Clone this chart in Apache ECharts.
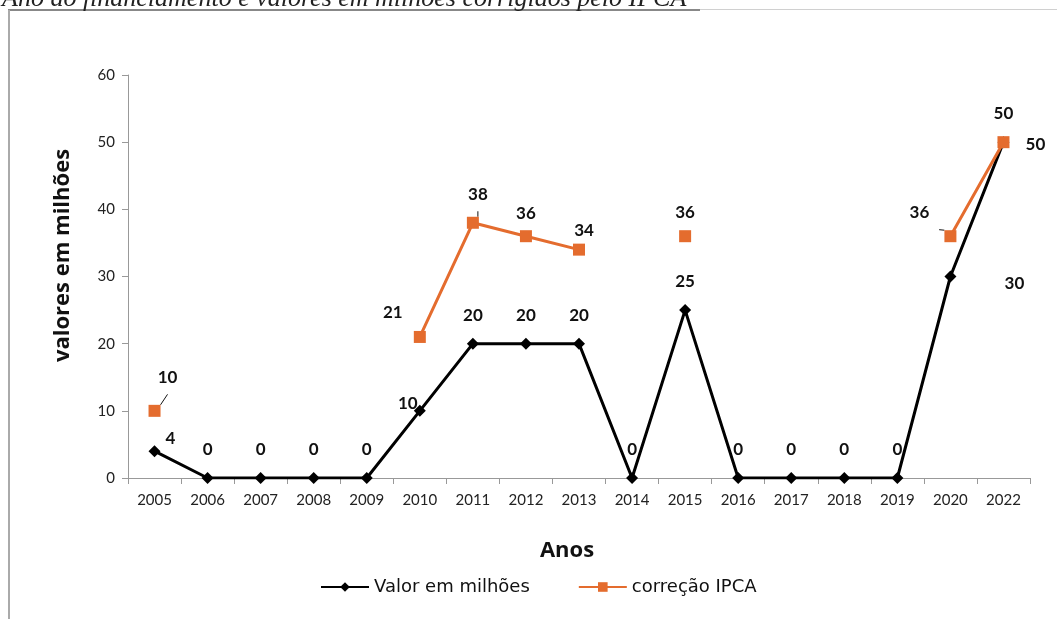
<!DOCTYPE html>
<html>
<head>
<meta charset="utf-8">
<script src="https://cdn.jsdelivr.net/npm/echarts@6/dist/echarts.min.js"></script>
<style>
  html, body { margin: 0; padding: 0; background: #fff; }
  #main { width: 1057px; height: 619px; }
</style>
</head>
<body>
<div id="main"></div>
<script>
var anos = ['2005', '2006', '2007', '2008', '2009', '2010', '2011', '2012', '2013',
  '2014', '2015', '2016', '2017', '2018', '2019', '2020', '2022'];
var valorMilhoes = [4, 0, 0, 0, 0, 10, 20, 20, 20, 0, 25, 0, 0, 0, 0, 30, 50];
var correcaoIPCA = [10, null, null, null, null, 21, 38, 36, 34, null, 36, null, null, null, null, 36, 50];
var yTicks = [0, 10, 20, 30, 40, 50, 60];

// label offsets per point, [dx, dy]
var offValor = [[16, 16], [0, 0], [0, 0], [0, 0], [0, 0], [-12, 21], [0, 0], [0, 0], [0, 0],
  [0, 0], [0, 0], [0, 0], [0, 0], [0, 0], [0, 0], [64, 36], [32, 31]];
var offIPCA = [[13, -7], null, null, null, null, [-27, 2], [5, -2], [0, 4], [5, 7],
  null, [0, 3], null, null, null, null, [-31, 3], [0, -2]];
// points whose label gets a leader line
var leaderIPCA = [0, 6, 15];

var font = 'Lato, "Open Sans", sans-serif';
var wideFont = '"Open Sans", Lato, sans-serif';

function buildData(vals, offs, leaders) {
  return vals.map(function (v, i) {
    if (v === null) return null;
    var item = { value: v, label: { offset: offs[i] || [0, 0] } };
    if (leaders && leaders.indexOf(i) >= 0) {
      item.labelLine = { show: true, lineStyle: { color: '#111', width: 1 } };
    }
    return item;
  });
}

var myChart = echarts.init(document.getElementById('main'));
var option = {
  animation: false,
  title: {
    text: 'Ano do financiamento e valores em milhões corrigidos pelo IPCA',
    left: -3,
    top: -19,
    textStyle: {
      fontFamily: '"Liberation Serif", "DejaVu Serif", serif',
      fontStyle: 'italic',
      fontWeight: 'normal',
      fontSize: 26,
      color: '#222'
    }
  },
  graphic: [
    { type: 'line', shape: { x1: 8, y1: 10, x2: 700, y2: 10 }, style: { stroke: '#888', lineWidth: 2 } },
    { type: 'line', shape: { x1: 700, y1: 9.5, x2: 1057, y2: 9.5 }, style: { stroke: '#d0d0d0', lineWidth: 1 } },
    { type: 'line', shape: { x1: 9, y1: 10, x2: 9, y2: 619 }, style: { stroke: '#aaa', lineWidth: 2 } }
  ],
  grid: { left: 128, right: 27, top: 75, bottom: 141 },
  legend: {
    bottom: 18,
    left: 315,
    itemGap: 48,
    itemWidth: 48,
    itemHeight: 12,
    textStyle: { fontFamily: '"DejaVu Sans", sans-serif', fontSize: 18, color: '#111' },
    data: ['Valor em milhões', 'correção IPCA']
  },
  xAxis: {
    type: 'category',
    data: anos,
    boundaryGap: true,
    name: 'Anos',
    nameLocation: 'middle',
    nameGap: 62,
    nameTextStyle: { fontFamily: wideFont, fontSize: 22, fontWeight: 'bold', color: '#111', padding: [0, 24, 0, 0] },
    axisLine: { lineStyle: { color: '#999' } },
    axisTick: { show: true, length: 6, lineStyle: { color: '#999' } },
    axisLabel: { fontFamily: font, fontSize: 15, color: '#222', margin: 15 }
  },
  yAxis: {
    type: 'value',
    min: yTicks[0],
    max: yTicks[yTicks.length - 1],
    interval: 10,
    name: 'valores em milhões',
    nameLocation: 'middle',
    nameGap: 54,
    nameTextStyle: { fontFamily: wideFont, fontSize: 22, fontWeight: 'bold', color: '#111', padding: [0, 0, 0, 42] },
    splitLine: { show: false },
    axisLine: { show: true, lineStyle: { color: '#999' } },
    axisTick: { show: true, length: 6, lineStyle: { color: '#999' } },
    axisLabel: { fontFamily: font, fontSize: 15, color: '#222', margin: 13 }
  },
  series: [
    {
      name: 'Valor em milhões',
      type: 'line',
      data: buildData(valorMilhoes, offValor),
      symbol: 'diamond',
      symbolSize: 12,
      itemStyle: { color: '#000' },
      lineStyle: { color: '#000', width: 3 },
      label: {
        show: true,
        position: 'top',
        distance: 14,
        fontFamily: font,
        fontSize: 17,
        fontWeight: 'bold',
        color: '#111'
      },
      z: 2
    },
    {
      name: 'correção IPCA',
      type: 'line',
      data: buildData(correcaoIPCA, offIPCA, leaderIPCA),
      connectNulls: false,
      symbol: 'rect',
      symbolSize: 12,
      itemStyle: { color: '#E46C2E' },
      lineStyle: { color: '#E46C2E', width: 3 },
      label: {
        show: true,
        position: 'top',
        distance: 12,
        fontFamily: font,
        fontSize: 17,
        fontWeight: 'bold',
        color: '#111'
      },
      z: 3
    }
  ]
};
myChart.setOption(option);
</script>
</body>
</html>
